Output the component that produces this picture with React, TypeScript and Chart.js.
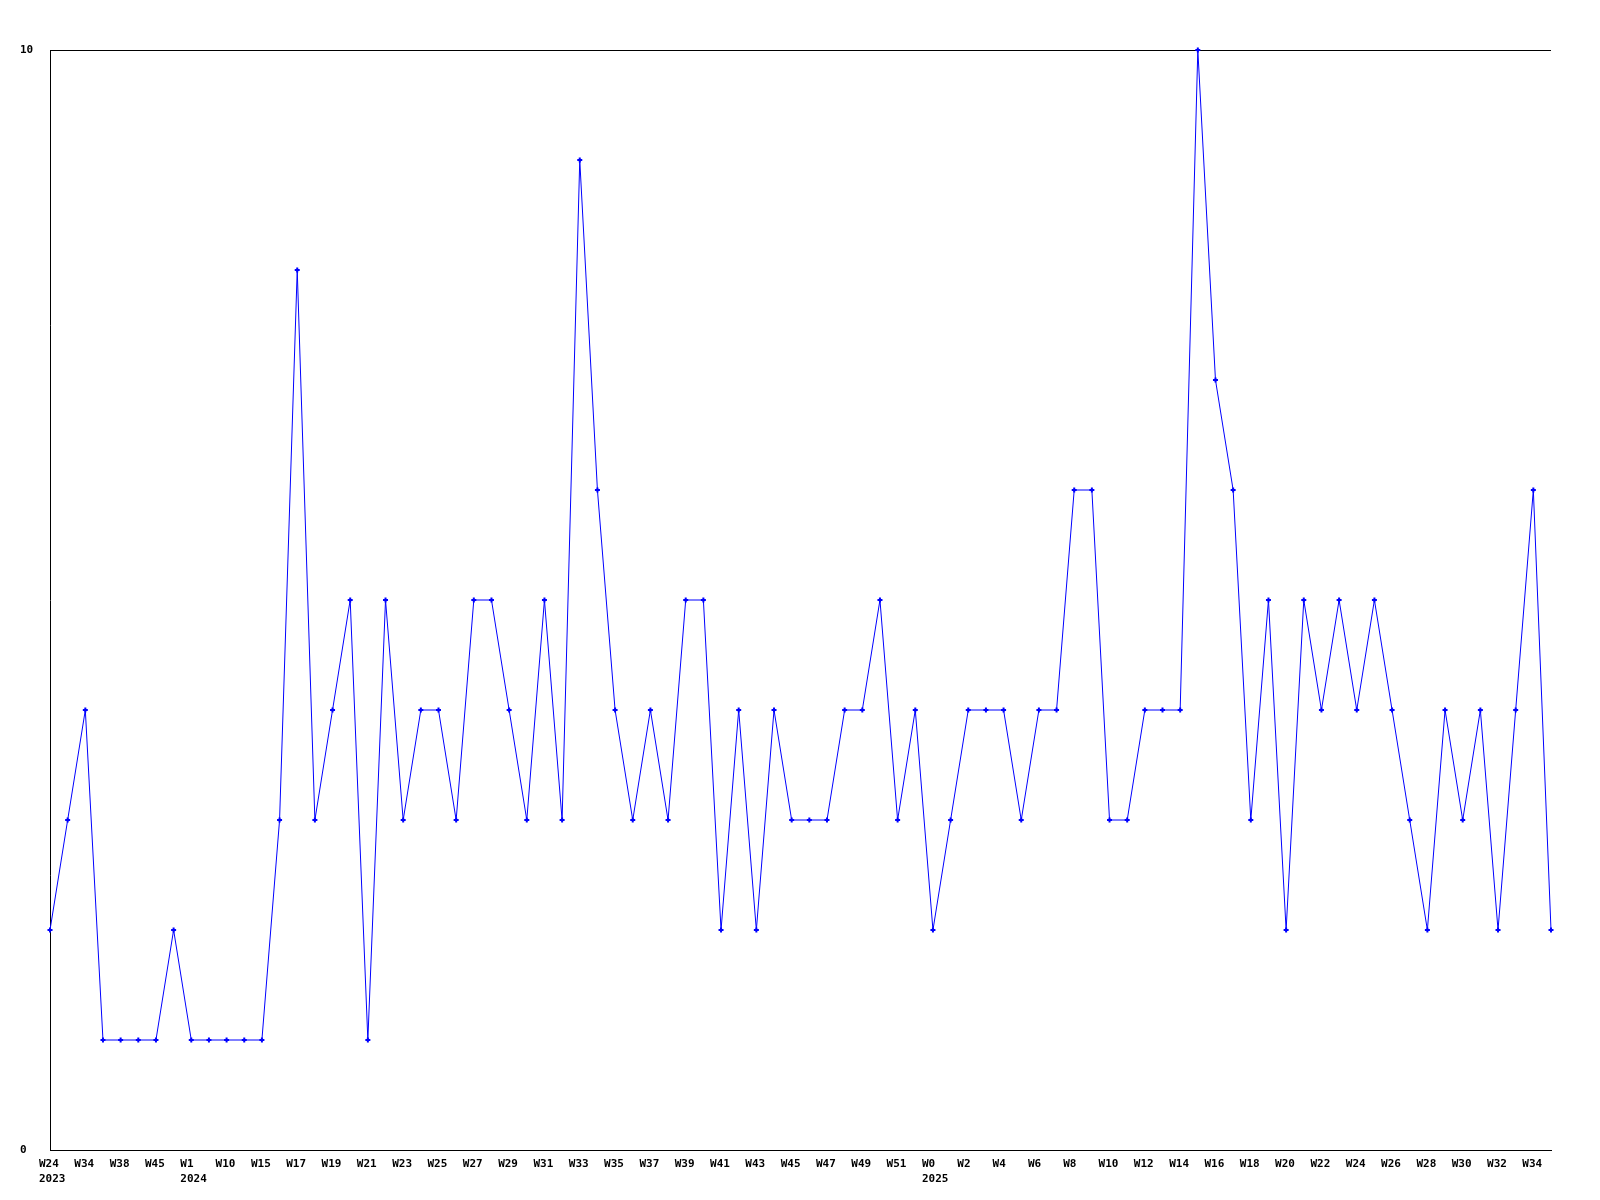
import React, { useEffect, useRef } from "react";
import { Chart, registerables } from "chart.js";

Chart.register(...registerables);

const weekLabels = [
  "W24", "W30", "W34", "W36", "W38", "W42", "W45", "W48", "W1", "W5",
  "W10", "W12", "W15", "W16", "W17", "W18", "W19", "W20", "W21", "W22",
  "W23", "W24", "W25", "W26", "W27", "W28", "W29", "W30", "W31", "W32",
  "W33", "W34", "W35", "W36", "W37", "W38", "W39", "W40", "W41", "W42",
  "W43", "W44", "W45", "W46", "W47", "W48", "W49", "W50", "W51", "W52",
  "W0", "W1", "W2", "W3", "W4", "W5", "W6", "W7", "W8", "W9",
  "W10", "W11", "W12", "W13", "W14", "W15", "W16", "W17", "W18", "W19",
  "W20", "W21", "W22", "W23", "W24", "W25", "W26", "W27", "W28", "W29",
  "W30", "W31", "W32", "W33", "W34", "W35",
];

const yearStarts: Record<number, string> = { 0: "2023", 8: "2024", 50: "2025" };

const values = [
  2, 3, 4, 1, 1, 1, 1, 2, 1, 1,
  1, 1, 1, 3, 8, 3, 4, 5, 1, 5,
  3, 4, 4, 3, 5, 5, 4, 3, 5, 3,
  9, 6, 4, 3, 4, 3, 5, 5, 2, 4,
  2, 4, 3, 3, 3, 4, 4, 5, 3, 4,
  2, 3, 4, 4, 4, 3, 4, 4, 6, 6,
  3, 3, 4, 4, 4, 10, 7, 6, 3, 5,
  2, 5, 4, 5, 4, 5, 4, 3, 2, 4,
  3, 4, 2, 4, 6, 2,
];

const yTickValues = [0, 10];

const FONT = { family: "'DejaVu Sans Mono', monospace", size: 11, weight: "bold" as const, lineHeight: 1.4 };

export default function App() {
  const ref = useRef<HTMLCanvasElement | null>(null);

  useEffect(() => {
    if (!ref.current) return;
    const chart = new Chart(ref.current, {
      type: "line",
      data: {
        labels: weekLabels,
        datasets: [
          {
            data: values,
            borderColor: "#0000ff",
            backgroundColor: "#0000ff",
            borderWidth: 1,
            tension: 0,
            pointStyle: "cross",
            pointRadius: 2.5,
            pointBorderWidth: 2,
            pointBorderColor: "#0000ff",
            clip: false,
          },
        ],
      },
      options: {
        animation: false,
        responsive: false,
        layout: { padding: { left: 20, top: 50, right: 49, bottom: 0 } },
        plugins: { legend: { display: false }, tooltip: { enabled: false } },
        scales: {
          x: {
            type: "category",
            offset: false,
            grid: { display: false, drawTicks: false },
            border: { display: true, color: "#000", width: 1 },
            ticks: {
              autoSkip: false,
              maxRotation: 0,
              minRotation: 0,
              align: "start",
              labelOffset: -11,
              padding: 6,
              color: "#000",
              font: FONT,
              callback: (_v: any, i: number) => {
                if (i % 2 !== 0) return null;
                const y = yearStarts[i];
                return y ? [weekLabels[i], y] : weekLabels[i];
              },
            },
            afterFit: (s: any) => {
              s.height = 50;
            },
          },
          y: {
            min: 0,
            max: 10,
            grid: { display: true, color: "#000", lineWidth: 1, drawTicks: false },
            border: { display: true, color: "#000", width: 1 },
            afterBuildTicks: (s: any) => {
              s.ticks = yTickValues.map((v) => ({ value: v }));
            },
            ticks: {
              crossAlign: "far",
              color: "#000",
              font: { ...FONT, lineHeight: 1.2 },
              padding: 0,
            },
            afterFit: (s: any) => {
              s.width = 30;
            },
          },
        },
      },
    });
    return () => chart.destroy();
  }, []);

  return (
    <div style={{ position: "absolute", left: 0, top: 0, width: 1600, height: 1200, background: "#fff" }}>
      <canvas ref={ref} width={1600} height={1200} style={{ width: 1600, height: 1200, display: "block" }} />
    </div>
  );
}
